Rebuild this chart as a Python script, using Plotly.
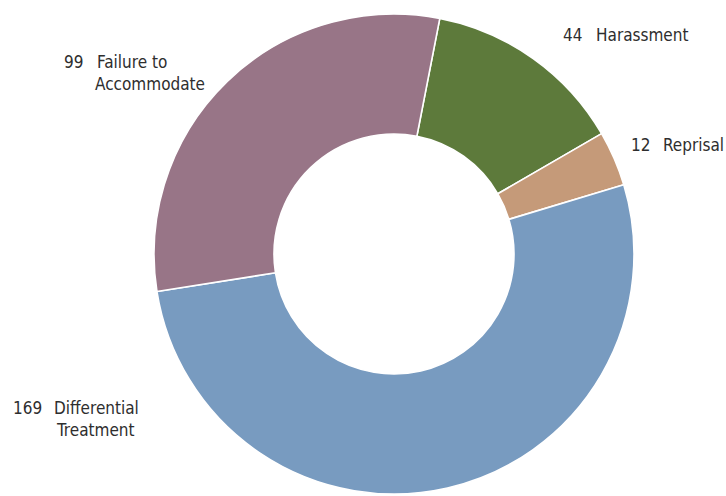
import plotly.graph_objects as go

# Complaint counts by category (clockwise from the top)
categories = ["Harassment", "Reprisal", "Differential\nTreatment", "Failure to\nAccommodate"]
counts = [44, 12, 169, 99]
colors = ["#5d7a3b", "#c59a79", "#789bc0", "#987587"]

# Label anchors in pixels: (number x, text x, first-line y, second-line x)
label_pos = [
    (562, 595, 35, None),
    (630, 662, 145, None),
    (12, 53, 408, 55),
    (63, 96, 62, 94),
]

W, H = 726, 496
LINE_GAP = 22
FONT = dict(family="DejaVu Sans Condensed, DejaVu Sans, sans-serif",
            size=17, color="#2e2e2e")


def px(x):
    return x / W


def py(y):
    return 1 - y / H


fig = go.Figure(
    go.Pie(
        labels=[c.replace("\n", " ") for c in categories],
        values=counts,
        marker=dict(colors=colors, line=dict(color="#ffffff", width=1.6)),
        hole=0.5,
        sort=False,
        direction="clockwise",
        rotation=11,
        textinfo="none",
        hoverinfo="label+value",
        showlegend=False,
        domain=dict(x=[154 / W, 634 / W], y=[2 / H, 482 / H]),
    )
)

annotations = []
for cat, n, (nx, tx, y0, tx2) in zip(categories, counts, label_pos):
    annotations.append(dict(x=px(nx), y=py(y0), text=str(n)))
    for i, line in enumerate(cat.split("\n")):
        x = tx if i == 0 or tx2 is None else tx2
        annotations.append(dict(x=px(x), y=py(y0 + i * LINE_GAP), text=line))

for a in annotations:
    a.update(xref="paper", yref="paper", xanchor="left", yanchor="middle",
             showarrow=False, font=FONT, borderpad=0)

fig.update_layout(
    width=W,
    height=H,
    margin=dict(l=0, r=0, t=0, b=0),
    paper_bgcolor="#ffffff",
    plot_bgcolor="#ffffff",
    annotations=annotations,
)

fig.write_html("out.html")
